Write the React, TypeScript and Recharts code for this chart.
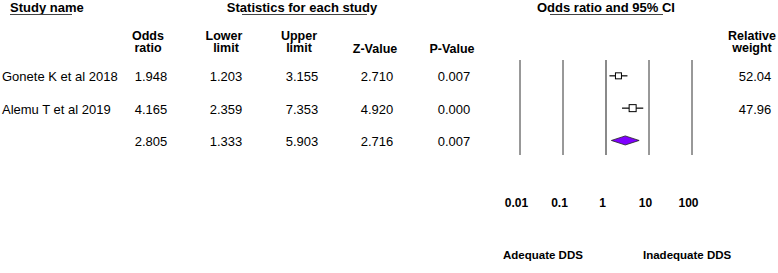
import {
  ComposedChart,
  Scatter,
  Area,
  ErrorBar,
  XAxis,
  YAxis,
  ReferenceLine,
} from "recharts";

const studies = ["Gonete K et al 2018", "Alemu T et al 2019", ""];
const oddsRatio = [1.948, 4.165, 2.805];
const lowerLimit = [1.203, 2.359, 1.333];
const upperLimit = [3.155, 7.353, 5.903];
const zValue = [2.71, 4.92, 2.716];
const pValue = [0.007, 0.0, 0.007];
const relativeWeight = [52.04, 47.96, null];
const xTicks = [0.01, 0.1, 1, 10, 100];
const rows = [0, 1, 2];

const FONT = '"Liberation Sans", Arial, sans-serif';
const colX = [151, 226, 302, 377, 454];
const DIAMOND_HALF = 0.14;

// study rows get a square + CI line, the last row is the pooled diamond
const studyPoints = [0, 1].map((i) => ({
  x: oddsRatio[i],
  y: i,
  err: [oddsRatio[i] - lowerLimit[i], upperLimit[i] - oddsRatio[i]],
}));

const pooled = 2;
const diamond = [
  { x: lowerLimit[pooled], r: [pooled, pooled] },
  { x: oddsRatio[pooled], r: [pooled - DIAMOND_HALF, pooled + DIAMOND_HALF] },
  { x: upperLimit[pooled], r: [pooled, pooled] },
];

const stats = [oddsRatio, lowerLimit, upperLimit, zValue, pValue];

function RowTick(props: any) {
  const { y, payload } = props;
  const i = payload.value as number;
  return (
    <g fontFamily={FONT} fontSize={13} fill="#000">
      <text x={2} y={y + 5.5} textAnchor="start">
        {studies[i]}
      </text>
      {stats.map((col, k) => (
        <text key={k} x={colX[k]} y={y + 5.5} textAnchor="middle">
          {col[i].toFixed(3)}
        </text>
      ))}
    </g>
  );
}

function WeightTick(props: any) {
  const { y, payload } = props;
  const w = relativeWeight[payload.value as number];
  if (w == null) return <g />;
  return (
    <text x={755} y={y + 5.5} textAnchor="middle" fontFamily={FONT} fontSize={13} fill="#000">
      {w.toFixed(2)}
    </text>
  );
}

function XTick(props: any) {
  const { x, y, payload } = props;
  return (
    <text
      x={x - 3.5}
      y={y + 44}
      textAnchor="middle"
      fontFamily={FONT}
      fontSize={12}
      fontWeight="bold"
      fill="#000"
    >
      {String(payload.value)}
    </text>
  );
}

function Square(props: any) {
  const { cx, cy, index } = props;
  const s = index === 0 ? 6 : 7;
  return (
    <rect
      x={cx - s / 2}
      y={cy - s / 2}
      width={s}
      height={s}
      fill="#fff"
      stroke="#000"
      strokeWidth={1}
    />
  );
}

function Headers() {
  const bold = { fontFamily: FONT, fontWeight: "bold" as const, fill: "#000" };
  return (
    <svg
      width={778}
      height={273}
      style={{ position: "absolute", left: 0, top: 0, pointerEvents: "none" }}
    >
      <text x={10} y={11.5} fontSize={13} {...bold}>Study name</text>
      <line x1={10} x2={72} y1={14.5} y2={14.5} stroke="#444" />
      <text x={302} y={11.5} fontSize={13} textAnchor="middle" {...bold}>
        Statistics for each study
      </text>
      <line x1={242} x2={367} y1={14.5} y2={14.5} stroke="#444" />
      <text x={606} y={11.5} fontSize={13} textAnchor="middle" {...bold}>
        Odds ratio and 95% CI
      </text>
      <line x1={550} x2={663} y1={14.5} y2={14.5} stroke="#444" />

      <g fontSize={12.5} textAnchor="middle" {...bold}>
        <text x={148} y={39.5}>Odds</text>
        <text x={148} y={52}>ratio</text>
        <text x={224} y={39.5}>Lower</text>
        <text x={226} y={52}>limit</text>
        <text x={299} y={39.5}>Upper</text>
        <text x={299} y={52}>limit</text>
        <text x={375} y={52.5}>Z-Value</text>
        <text x={452} y={52.5}>P-Value</text>
        <text x={752} y={39.5}>Relative</text>
        <text x={752} y={52}>weight</text>
      </g>

      <g fontSize={11.5} {...bold}>
        <text x={503} y={259}>Adequate DDS</text>
        <text x={643} y={259}>Inadequate DDS</text>
      </g>
    </svg>
  );
}

export default function App() {
  return (
    <div style={{ position: "absolute", left: 0, top: 0, width: 778, height: 273, background: "#fff" }}>
      <ComposedChart
        width={778}
        height={273}
        margin={{ top: 60, right: 6, bottom: 88, left: 20 }}
      >
        <XAxis
          dataKey="x"
          type="number"
          scale="log"
          domain={[0.01, 100]}
          ticks={xTicks}
          allowDataOverflow
          axisLine={false}
          tickLine={false}
          height={30}
          tick={<XTick />}
        />
        <YAxis
          yAxisId="left"
          dataKey="y"
          type="number"
          domain={[-0.49, 2.45]}
          reversed
          allowDataOverflow
          ticks={rows}
          width={500}
          axisLine={false}
          tickLine={false}
          tick={<RowTick />}
        />
        <YAxis
          yAxisId="right"
          orientation="right"
          type="number"
          domain={[-0.49, 2.45]}
          reversed
          allowDataOverflow
          ticks={rows}
          width={80}
          axisLine={false}
          tickLine={false}
          tick={<WeightTick />}
        />
        {xTicks.map((t) => (
          <ReferenceLine
            key={t}
            x={t}
            yAxisId="left"
            stroke={t === 1 ? "#8a8a8a" : "#333"}
            strokeWidth={t === 1 ? 2 : 1}
          />
        ))}
        <Area
          yAxisId="left"
          data={diamond}
          dataKey="r"
          type="linear"
          fill="#7f00ff"
          fillOpacity={1}
          stroke="#222"
          strokeWidth={0.8}
          isAnimationActive={false}
          dot={false}
          activeDot={false}
        />
        <Scatter
          yAxisId="left"
          data={studyPoints}
          dataKey="y"
          shape={<Square />}
          isAnimationActive={false}
        >
          <ErrorBar dataKey="err" direction="x" width={0} stroke="#000" strokeWidth={1.2} />
        </Scatter>
      </ComposedChart>
      <Headers />
    </div>
  );
}
